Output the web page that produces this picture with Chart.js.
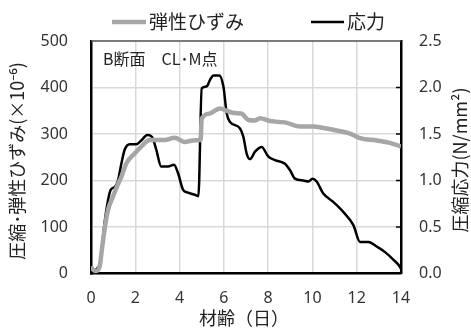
<!DOCTYPE html>
<html>
<head>
<meta charset="utf-8">
<script src="https://cdn.jsdelivr.net/npm/chart.js@4/dist/chart.umd.min.js"></script>
<style>
  html, body { margin: 0; padding: 0; background: #fff; }
  #wrap { width: 471px; height: 328px; }
</style>
</head>
<body>
<div id="wrap"><canvas id="c" width="471" height="328"></canvas></div>
<script>
// 材齢 (日) と弾性ひずみ (×10^-6)
const strainDays = [0, 0.1, 0.2, 0.39, 0.5, 0.61, 0.77, 0.99, 1.2, 1.37, 1.6, 1.97, 2.27, 2.65, 2.88, 3.33, 3.78, 4.23, 4.6, 4.95, 5.0, 5.37, 5.52, 5.83, 6.13, 6.5, 6.8, 7.11, 7.4, 7.63, 8.08, 8.5, 8.84, 9.44, 10.04, 10.5, 10.94, 11.7, 12.15, 12.9, 13.5, 14.0];
const strainValues = [15, 8, 5, 15, 55, 94, 137, 165, 190, 208, 237, 258, 273, 287, 287, 287, 292, 283, 286, 287, 333, 344, 348, 355, 350, 345, 344, 330, 329, 334, 328, 326, 324, 316, 316, 313, 309, 301, 291, 286, 281, 273];

// 材齢 (日) と圧縮応力 (N/mm²)
const stressDays = [0, 0.15, 0.3, 0.41, 0.47, 0.59, 0.77, 0.89, 1.07, 1.22, 1.37, 1.52, 1.75, 2.05, 2.27, 2.54, 2.75, 2.95, 3.17, 3.48, 3.75, 3.93, 4.16, 4.38, 4.76, 4.85, 5.0, 5.22, 5.37, 5.53, 5.79, 5.98, 6.13, 6.28, 6.73, 6.88, 7.03, 7.18, 7.41, 7.71, 8.0, 8.31, 8.76, 8.99, 9.21, 9.59, 9.82, 10.0, 10.19, 10.49, 10.94, 11.4, 11.85, 12.15, 12.53, 12.9, 13.28, 13.65, 13.96, 14.0];
const stressValues = [0.02, 0.03, 0.06, 0.11, 0.22, 0.5, 0.79, 0.9, 0.93, 1.0, 1.18, 1.33, 1.39, 1.39, 1.43, 1.49, 1.47, 1.33, 1.15, 1.15, 1.17, 1.08, 0.9, 0.87, 0.84, 0.83, 1.99, 2.01, 2.08, 2.13, 2.13, 2.01, 1.72, 1.63, 1.56, 1.47, 1.29, 1.23, 1.31, 1.36, 1.26, 1.22, 1.18, 1.11, 1.02, 1.0, 0.99, 1.02, 0.99, 0.86, 0.77, 0.66, 0.52, 0.34, 0.34, 0.29, 0.23, 0.15, 0.07, 0.05];

const xTicks = [0, 2, 4, 6, 8, 10, 12, 14];
const strainTicks = [0, 100, 200, 300, 400, 500];
const stressTicks = [0, 0.5, 1.0, 1.5, 2.0, 2.5];

const seriesNames = ['弾性ひずみ', '応力'];
const sectionLabel = 'B断面　CL･M点';
const xTitle = '材齢（日）';
const leftTitle = '圧縮･弾性ひずみ(×10⁻⁶)';
const rightTitle = '圧縮応力(N/mm²)';

const GRAY = '#a6a6a6';
const BLACK = '#000000';
const JP = '"Noto Sans CJK JP", "Noto Sans", sans-serif';
const NUM = '"Noto Sans", "DejaVu Sans", sans-serif';

const toPoints = (xs, ys) => xs.map((x, i) => ({ x: x, y: ys[i] }));

// legend, axis titles, label and frame details drawn on the canvas
const decorations = {
  id: 'decorations',
  afterDraw(chart) {
    const ctx = chart.ctx;
    const a = chart.chartArea;
    ctx.save();

    // top frame line
    ctx.strokeStyle = '#595959';
    ctx.lineWidth = 1.5;
    ctx.beginPath();
    ctx.moveTo(a.left, a.top);
    ctx.lineTo(a.right, a.top);
    ctx.stroke();

    // inward tick marks on the right axis
    const y2 = chart.scales.y2;
    ctx.strokeStyle = BLACK;
    ctx.lineWidth = 1.5;
    stressTicks.forEach(v => {
      if (v === 0 || v === 2.5) return;
      const py = y2.getPixelForValue(v);
      ctx.beginPath();
      ctx.moveTo(a.right - 5, py);
      ctx.lineTo(a.right, py);
      ctx.stroke();
    });

    // legend
    ctx.textBaseline = 'middle';
    ctx.textAlign = 'left';
    ctx.font = '19px ' + JP;
    ctx.fillStyle = '#222';
    ctx.lineCap = 'butt';
    ctx.strokeStyle = GRAY;
    ctx.lineWidth = 4.5;
    ctx.beginPath(); ctx.moveTo(112, 22); ctx.lineTo(146, 22); ctx.stroke();
    ctx.fillText(seriesNames[0], 149, 22);
    ctx.strokeStyle = BLACK;
    ctx.lineWidth = 2.5;
    ctx.beginPath(); ctx.moveTo(311, 22); ctx.lineTo(344, 22); ctx.stroke();
    ctx.fillText(seriesNames[1], 347, 22);

    // section label
    ctx.font = '16px ' + JP;
    ctx.fillText(sectionLabel, 103, 59);

    // x axis title
    ctx.textAlign = 'center';
    ctx.font = '18px ' + JP;
    ctx.fillText(xTitle, 244, 318);

    // left axis title
    ctx.save();
    ctx.translate(17, 161);
    ctx.rotate(-Math.PI / 2);
    ctx.font = '18px ' + JP;
    ctx.fillText(leftTitle, 0, 0);
    ctx.restore();

    // right axis title
    ctx.save();
    ctx.translate(460, 160);
    ctx.rotate(-Math.PI / 2);
    ctx.font = '18px ' + JP;
    ctx.fillText(rightTitle, 0, 0);
    ctx.restore();

    ctx.restore();
  }
};

new Chart(document.getElementById('c'), {
  type: 'line',
  data: {
    datasets: [
      {
        label: seriesNames[0],
        data: toPoints(strainDays, strainValues),
        yAxisID: 'y',
        borderColor: GRAY,
        borderWidth: 4.5,
        pointRadius: 0,
        cubicInterpolationMode: 'monotone',
        fill: false
      },
      {
        label: seriesNames[1],
        data: toPoints(stressDays, stressValues),
        yAxisID: 'y2',
        borderColor: BLACK,
        borderWidth: 2.5,
        pointRadius: 0,
        cubicInterpolationMode: 'monotone',
        fill: false
      }
    ]
  },
  options: {
    responsive: false,
    animation: false,
    devicePixelRatio: 1,
    layout: { padding: { top: 41, left: 0, right: 0, bottom: 0 } },
    plugins: {
      legend: { display: false },
      tooltip: { enabled: false }
    },
    scales: {
      x: {
        type: 'linear',
        min: 0,
        max: 14,
        afterBuildTicks: s => { s.ticks = xTicks.map(v => ({ value: v })); },
        afterFit: s => { s.height = 54.5; },
        grid: { color: '#d9d9d9', lineWidth: 1.5, drawTicks: false },
        border: { color: BLACK, width: 2.5 },
        ticks: { padding: 15, color: '#333', font: { family: NUM, size: 16 } }
      },
      y: {
        position: 'left',
        min: 0,
        max: 500,
        afterBuildTicks: s => { s.ticks = strainTicks.map(v => ({ value: v })); },
        afterFit: s => { s.width = 91; },
        grid: { color: '#d9d9d9', lineWidth: 1.5, drawTicks: false },
        border: { color: BLACK, width: 2.5 },
        ticks: { padding: 23, color: '#333', font: { family: NUM, size: 16 } }
      },
      y2: {
        position: 'right',
        min: 0,
        max: 2.5,
        afterBuildTicks: s => { s.ticks = stressTicks.map(v => ({ value: v })); },
        afterFit: s => { s.width = 70; },
        grid: { display: false, drawTicks: false },
        border: { color: BLACK, width: 2.5 },
        ticks: {
          padding: 18,
          color: '#333',
          font: { family: NUM, size: 16 },
          callback: v => Number(v).toFixed(1)
        }
      }
    }
  },
  plugins: [decorations]
});
</script>
</body>
</html>
